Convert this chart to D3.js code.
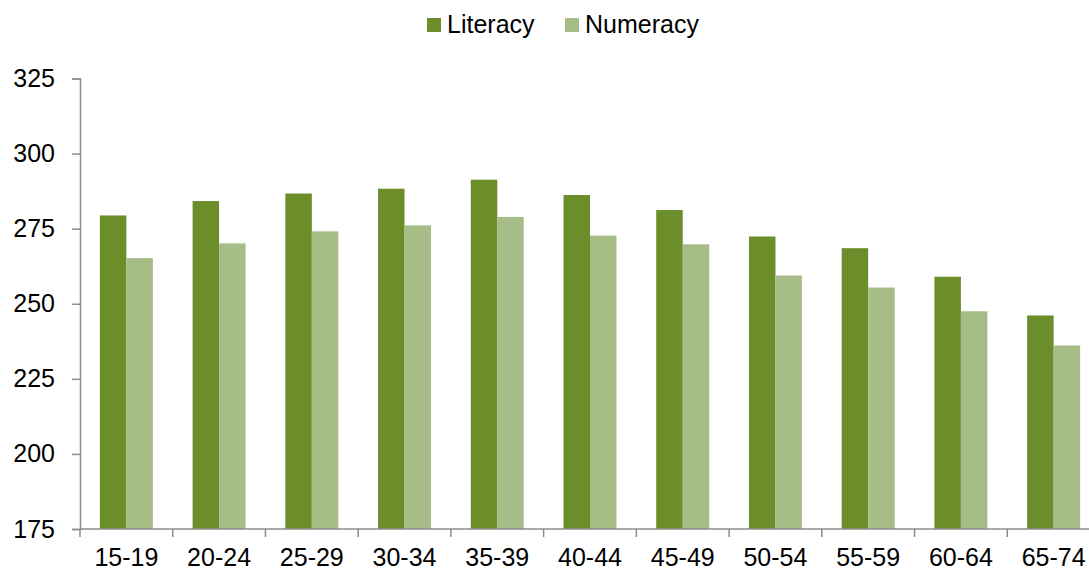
<!DOCTYPE html>
<html>
<head>
<meta charset="utf-8">
<script src="https://cdn.jsdelivr.net/npm/d3@7"></script>
<style>
  html, body { margin: 0; padding: 0; background: #fff; }
  svg { display: block; font-family: "Liberation Sans", Arial, sans-serif; }
</style>
</head>
<body>
<svg id="chart" width="1089" height="572"></svg>
<script>
// Age groups and mean proficiency scores
const categories = ["15-19", "20-24", "25-29", "30-34", "35-39", "40-44", "45-49", "50-54", "55-59", "60-64", "65-74"];
const literacy = [279.4, 284.2, 286.7, 288.3, 291.3, 286.2, 281.2, 272.4, 268.5, 259.0, 246.1];
const numeracy = [265.2, 270.1, 274.1, 276.1, 278.9, 272.7, 269.8, 259.4, 255.4, 247.5, 236.1];
const seriesNames = ["Literacy", "Numeracy"];
const yTicks = [175, 200, 225, 250, 275, 300, 325];

const colors = { Literacy: "#6b8e2a", Numeracy: "#a6bd88" };
const series = [
  { name: "Literacy", values: literacy },
  { name: "Numeracy", values: numeracy }
];

const svg = d3.select("#chart");
const plot = { left: 80, right: 1100, top: 78.5, bottom: 529 };
const fontSize = "25px";

const x = d3.scaleBand().domain(categories).range([plot.left, plot.right]).paddingInner(0).paddingOuter(0);
const bw = x.bandwidth();
// two bars per group, gap between groups = 1.5 bar widths
const gapRatio = 1.5;
const barW = bw / (2 + gapRatio);
const x1 = d3.scaleBand().domain(seriesNames).range([0, barW * 2]);

const y = d3.scaleLinear().domain([175, 325]).range([plot.bottom, plot.top]);

// bars
series.forEach(s => {
  svg.append("g").selectAll("rect")
    .data(s.values)
    .join("rect")
    .attr("x", (d, i) => x(categories[i]) + barW * gapRatio / 2 + x1(s.name))
    .attr("y", d => y(d))
    .attr("width", x1.bandwidth())
    .attr("height", d => y(175) - y(d))
    .attr("fill", colors[s.name]);
});

// y axis
const yAxis = svg.append("g")
  .attr("transform", `translate(${plot.left},0)`)
  .call(d3.axisLeft(y).tickValues(yTicks).tickSize(8).tickPadding(17).tickFormat(d3.format("d")));
yAxis.select(".domain").attr("stroke", "#8c8c8c").attr("stroke-width", 1.5);
yAxis.selectAll(".tick line").attr("stroke", "#8c8c8c").attr("stroke-width", 1.5);
yAxis.selectAll(".tick text").attr("fill", "#000").style("font-size", fontSize);

// x axis with ticks at group boundaries
const xAxisG = svg.append("g").attr("transform", `translate(0,${plot.bottom})`);
xAxisG.append("line")
  .attr("x1", plot.left).attr("x2", plot.right).attr("y1", 0).attr("y2", 0)
  .attr("stroke", "#8c8c8c").attr("stroke-width", 1.5);
xAxisG.selectAll("line.tk")
  .data(categories)
  .join("line")
  .attr("class", "tk")
  .attr("x1", d => x(d)).attr("x2", d => x(d))
  .attr("y1", 0).attr("y2", 8)
  .attr("stroke", "#8c8c8c").attr("stroke-width", 1.5);
xAxisG.selectAll("text")
  .data(categories)
  .join("text")
  .attr("x", d => x(d) + bw / 2)
  .attr("y", 37)
  .attr("text-anchor", "middle")
  .style("font-size", fontSize)
  .attr("fill", "#000")
  .text(d => d);

// legend
const legendItems = [
  { name: "Literacy", x: 427 },
  { name: "Numeracy", x: 565 }
];
const lg = svg.append("g");
legendItems.forEach(it => {
  lg.append("rect")
    .attr("x", it.x).attr("y", 18).attr("width", 14).attr("height", 14)
    .attr("fill", colors[it.name]);
  lg.append("text")
    .attr("x", it.x + 20).attr("y", 33)
    .style("font-size", fontSize)
    .attr("fill", "#000")
    .text(it.name);
});
</script>
</body>
</html>
